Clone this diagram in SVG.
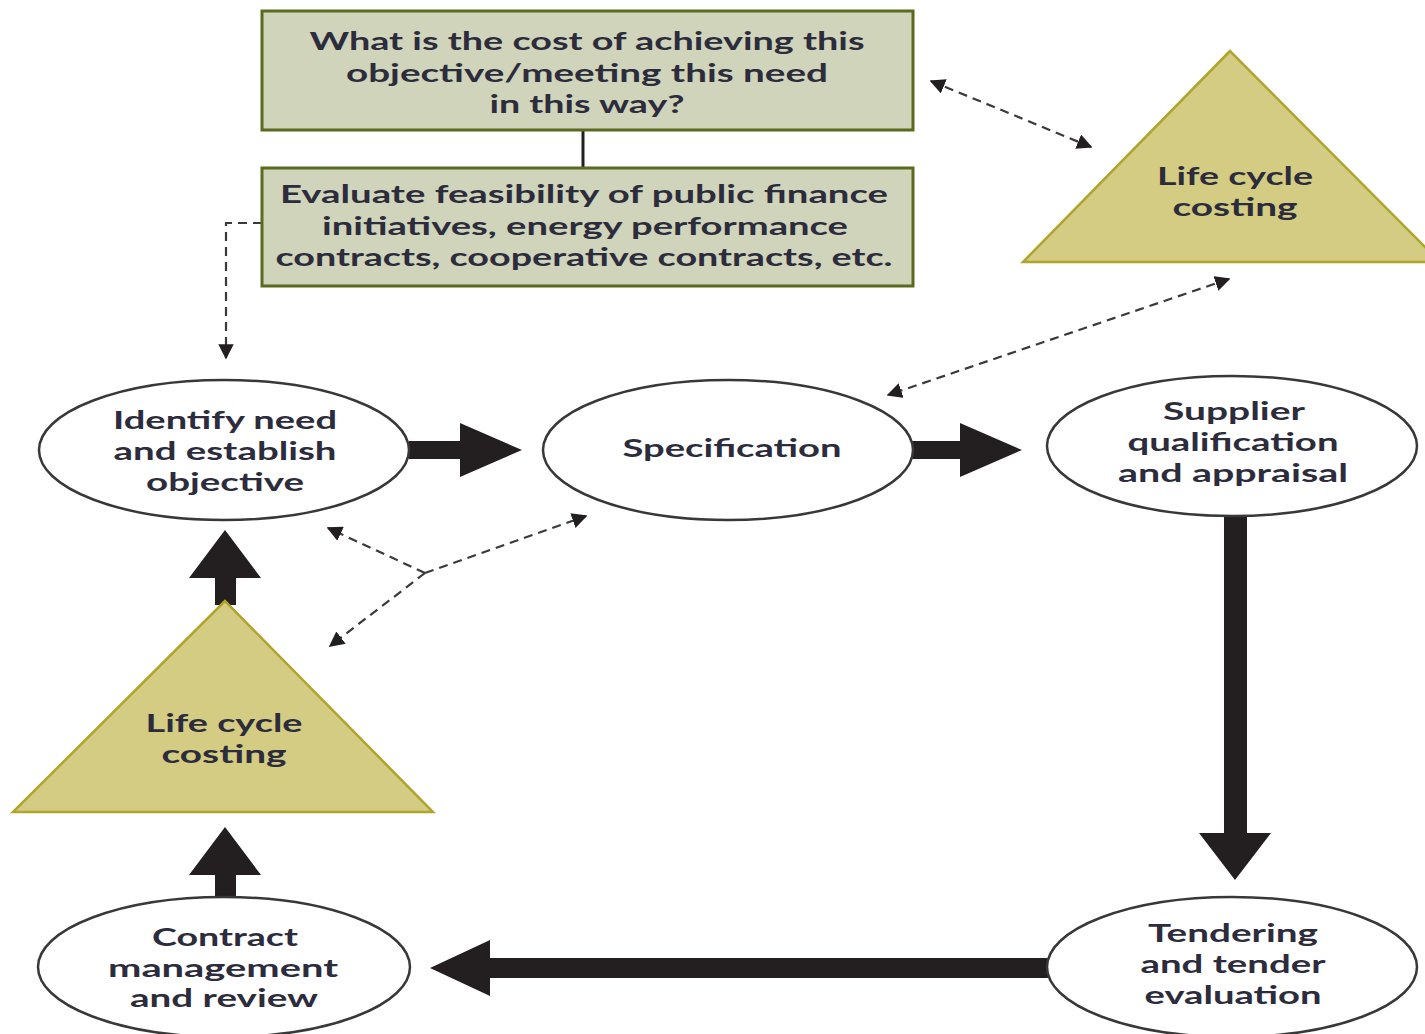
<svg xmlns="http://www.w3.org/2000/svg" width="1425" height="1034" viewBox="0 0 1425 1034">
<style>
.box{fill:#cfd4ba;stroke:#5a6a1e;stroke-width:3}
.tri{fill:#d3cc82;stroke:#b0a42c;stroke-width:2.5}
.ell{fill:#fff;stroke:#383838;stroke-width:2.5}
.t{font-family:Lato,"Open Sans","Liberation Sans",sans-serif;font-weight:700;font-size:25px;fill:#2c2c3c;text-anchor:middle}
.thick{fill:#231f20}
.dash{fill:none;stroke:#3a3a3a;stroke-width:2.2;stroke-dasharray:9 6}
.solid{fill:none;stroke:#231f20;stroke-width:3}
</style>
<defs>
<marker id="ah" viewBox="0 0 10 10" refX="9" refY="5" markerWidth="7" markerHeight="7" markerUnits="strokeWidth" orient="auto-start-reverse">
<path d="M0,0 L10,5 L0,10 Z" fill="#231f20"/>
</marker>
</defs>
<rect width="1425" height="1034" fill="#fff"/>

<g id="connectors">
<line class="solid" x1="583" y1="130" x2="583" y2="168"/>
<polyline class="dash" points="262,223 226,223 226,358" marker-end="url(#ah)"/>
<line class="dash" x1="931" y1="81" x2="1091" y2="147" marker-start="url(#ah)" marker-end="url(#ah)"/>
<line class="dash" x1="1229" y1="279" x2="888" y2="395" marker-start="url(#ah)" marker-end="url(#ah)"/>
<line class="dash" x1="425" y1="573" x2="328" y2="528" marker-end="url(#ah)"/>
<line class="dash" x1="425" y1="573" x2="586" y2="516" marker-end="url(#ah)"/>
<line class="dash" x1="425" y1="573" x2="330" y2="646" marker-end="url(#ah)"/>
<path class="thick" d="M409,441 H460 V423 L522,450 L460,477 V459 H409 Z"/>
<path class="thick" d="M912,441 H960 V423 L1022,450 L960,477 V459 H912 Z"/>
<path class="thick" d="M1224,516 V833 H1199 L1235,880 L1271,833 H1247 V516 Z"/>
<path class="thick" d="M1048,958 H490 V940 L430,968 L490,996 V978 H1048 Z"/>
<path class="thick" d="M215,605 V578 H189 L225,530 L261,578 H236 V605 Z"/>
<path class="thick" d="M215,898 V875 H189 L225,827 L261,875 H236 V898 Z"/>
</g>

<g id="box-cost">
<rect class="box" x="262" y="11" width="651" height="119"/>
<text class="t" x="587" y="50" textLength="555" lengthAdjust="spacingAndGlyphs">What is the cost of achieving this</text>
<text class="t" x="587" y="82" textLength="482" lengthAdjust="spacingAndGlyphs">objective/meeting this need</text>
<text class="t" x="587" y="113" textLength="195" lengthAdjust="spacingAndGlyphs">in this way?</text>
</g>

<g id="box-evaluate">
<rect class="box" x="262" y="168" width="651" height="118"/>
<text class="t" x="584" y="203" textLength="608" lengthAdjust="spacingAndGlyphs">Evaluate feasibility of public finance</text>
<text class="t" x="585" y="235" textLength="526" lengthAdjust="spacingAndGlyphs">initiatives, energy performance</text>
<text class="t" x="584" y="266" textLength="617" lengthAdjust="spacingAndGlyphs">contracts, cooperative contracts, etc.</text>
</g>

<g id="tri-lcc-top">
<polygon class="tri" points="1230,51 1023,262 1440,262"/>
<text class="t" x="1235" y="185" textLength="156" lengthAdjust="spacingAndGlyphs">Life cycle</text>
<text class="t" x="1235" y="216" textLength="125" lengthAdjust="spacingAndGlyphs">costing</text>
</g>

<g id="ell-identify">
<ellipse class="ell" cx="224" cy="450" rx="185" ry="70"/>
<text class="t" x="225" y="429" textLength="224" lengthAdjust="spacingAndGlyphs">Identify need</text>
<text class="t" x="225" y="460" textLength="223" lengthAdjust="spacingAndGlyphs">and establish</text>
<text class="t" x="225" y="491" textLength="158" lengthAdjust="spacingAndGlyphs">objective</text>
</g>

<g id="ell-spec">
<ellipse class="ell" cx="728" cy="450" rx="185" ry="70"/>
<text class="t" x="732" y="457" textLength="219" lengthAdjust="spacingAndGlyphs">Specification</text>
</g>

<g id="ell-supplier">
<ellipse class="ell" cx="1232" cy="446" rx="185" ry="70"/>
<text class="t" x="1234" y="420" textLength="142" lengthAdjust="spacingAndGlyphs">Supplier</text>
<text class="t" x="1233" y="451" textLength="211" lengthAdjust="spacingAndGlyphs">qualification</text>
<text class="t" x="1233" y="482" textLength="230" lengthAdjust="spacingAndGlyphs">and appraisal</text>
</g>

<g id="ell-tendering">
<ellipse class="ell" cx="1232" cy="967" rx="185" ry="70"/>
<text class="t" x="1233" y="942" textLength="170" lengthAdjust="spacingAndGlyphs">Tendering</text>
<text class="t" x="1233" y="973" textLength="185" lengthAdjust="spacingAndGlyphs">and tender</text>
<text class="t" x="1233" y="1004" textLength="177" lengthAdjust="spacingAndGlyphs">evaluation</text>
</g>

<g id="ell-contract">
<ellipse class="ell" cx="224" cy="967" rx="186" ry="70"/>
<text class="t" x="225" y="946" textLength="146" lengthAdjust="spacingAndGlyphs">Contract</text>
<text class="t" x="223" y="977" textLength="230" lengthAdjust="spacingAndGlyphs">management</text>
<text class="t" x="224" y="1007" textLength="188" lengthAdjust="spacingAndGlyphs">and review</text>
</g>

<g id="tri-lcc-left">
<polygon class="tri" points="225,601 13,812 433,812"/>
<text class="t" x="224" y="732" textLength="157" lengthAdjust="spacingAndGlyphs">Life cycle</text>
<text class="t" x="224" y="763" textLength="125" lengthAdjust="spacingAndGlyphs">costing</text>
</g>
</svg>
